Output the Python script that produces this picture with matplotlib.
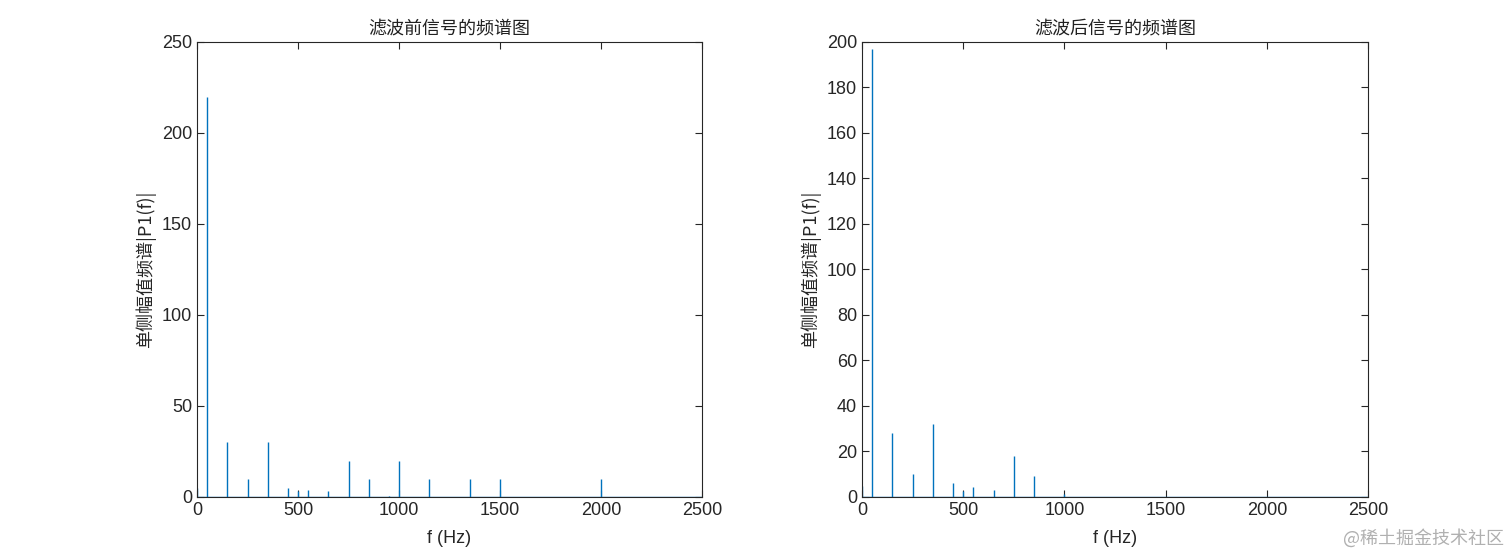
import numpy as np
import matplotlib
matplotlib.use("Agg")
import matplotlib.pyplot as plt

plt.rcParams['font.family'] = ['Liberation Sans', 'Noto Sans CJK SC', 'DejaVu Sans']

# spectrum peaks
freq_before = [0, 50, 150, 250, 350, 450, 500, 550, 650, 750, 850, 950, 1000, 1150, 1350, 1500, 2000]
amp_before = [5, 220, 30, 10, 30, 5, 3, 4, 3, 20, 10, 0.5, 20, 10, 10, 10, 10]

freq_after = [0, 50, 150, 250, 350, 450, 500, 550, 650, 750, 850, 1000]
amp_after = [5, 197, 28, 10, 32, 6, 2.5, 4.5, 3, 18, 9, 1.5]

titles = ['滤波前信号的频谱图', '滤波后信号的频谱图']
ylims = [250, 200]
ysteps = [50, 20]
x_max = 2500

blue = '#0072BD'
axcol = '#262626'

fig = plt.figure(figsize=(15.12, 5.59), dpi=100)
ax1 = fig.add_axes([0.1303, 0.111, 0.334, 0.814])
ax2 = fig.add_axes([0.5701, 0.111, 0.3347, 0.814])

for ax, f, a, title, ym, ys in zip([ax1, ax2], [freq_before, freq_after],
                                   [amp_before, amp_after], titles, ylims, ysteps):
    ax.plot([0, x_max], [0, 0], color=blue, lw=1.0)
    ax.vlines(f, 0, a, color=blue, lw=1.0)
    ax.set_xlim(0, x_max)
    ax.set_ylim(0, ym)
    ax.set_xticks(np.arange(0, x_max + 1, 500))
    ax.set_yticks(np.arange(0, ym + 1, ys))
    ax.tick_params(direction='in', top=True, right=True, length=5,
                   labelsize=13, colors=axcol, width=0.8)
    for s in ax.spines.values():
        s.set_color(axcol)
        s.set_linewidth(0.8)
    ax.set_title(title, fontsize=13, color='#202020', family=['Noto Sans CJK SC'], pad=6)
    ax.set_xlabel('f (Hz)', fontsize=13, color=axcol, labelpad=8)
    ax.set_ylabel('单侧幅值频谱|P1(f)|', fontsize=13, color=axcol,
                  family=['Noto Sans CJK SC', 'Liberation Sans'])

fig.text(0.995, 0.02, '@稀土掘金技术社区', ha='right', va='bottom', fontsize=13,
         color='#b0b0b0', family=['Noto Sans CJK SC'])

fig.savefig('out.png', dpi=100, facecolor='white')
